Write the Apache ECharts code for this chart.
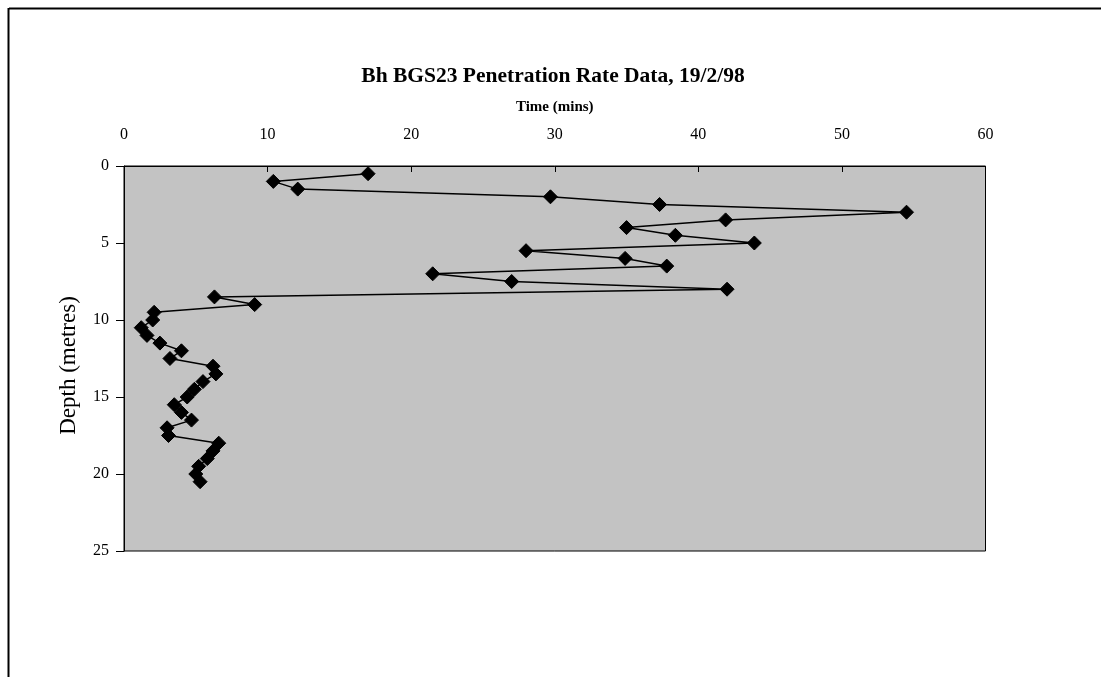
<!DOCTYPE html>
<html>
<head>
<meta charset="utf-8">
<script src="https://cdn.jsdelivr.net/npm/echarts@6/dist/echarts.min.js"></script>
<style>
html,body{margin:0;padding:0;background:#fff;}
#chart{width:1101px;height:677px;}
</style>
</head>
<body>
<div id="chart"></div>
<script>
const title = 'Bh BGS23 Penetration Rate Data, 19/2/98';
const xAxisName = 'Time (mins)';
const yAxisName = 'Depth (metres)';
const depths = [0.5, 1.0, 1.5, 2.0, 2.5, 3.0, 3.5, 4.0, 4.5, 5.0, 5.5, 6.0, 6.5, 7.0, 7.5, 8.0, 8.5, 9.0, 9.5, 10.0,
  10.5, 11.0, 11.5, 12.0, 12.5, 13.0, 13.5, 14.0, 14.5, 15.0, 15.5, 16.0, 16.5, 17.0, 17.5, 18.0, 18.5, 19.0, 19.5, 20.0, 20.5];
const times = [17.0, 10.4, 12.1, 29.7, 37.3, 54.5, 41.9, 35.0, 38.4, 43.9, 28.0, 34.9, 37.8, 21.5, 27.0, 42.0, 6.3, 9.1, 2.1, 2.0,
  1.2, 1.6, 2.5, 4.0, 3.2, 6.2, 6.4, 5.5, 4.9, 4.4, 3.5, 4.0, 4.7, 3.0, 3.1, 6.6, 6.2, 5.8, 5.2, 5.0, 5.3];

const chart = echarts.init(document.getElementById('chart'), null, {renderer: 'canvas'});
const serif = '"Liberation Serif", "Times New Roman", serif';
chart.setOption({
  backgroundColor: '#ffffff',
  animation: false,
  title: {
    text: title,
    left: 548, top: 60, textAlign: 'center',
    textStyle: {fontFamily: serif, fontSize: 21.5, fontWeight: 'bold', color: '#000'}
  },
  graphic: [
    {type: 'line', shape: {x1: 9, y1: 8.5, x2: 1101, y2: 8.5}, style: {stroke: '#000', lineWidth: 2}},
    {type: 'line', shape: {x1: 8.5, y1: 8, x2: 8.5, y2: 677}, style: {stroke: '#000', lineWidth: 2}}
  ],
  grid: {left: 124, right: 115.5, top: 166, bottom: 126, show: true, backgroundColor: '#c3c3c3', borderColor: '#000', borderWidth: 1},
  xAxis: {
    type: 'value', position: 'top', min: 0, max: 60, interval: 10,
    name: xAxisName, nameLocation: 'middle', nameGap: 51,
    nameTextStyle: {fontFamily: serif, fontSize: 15, fontWeight: 'bold', color: '#000'},
    axisLine: {show: true, lineStyle: {color: '#000', width: 1}},
    axisTick: {show: true, inside: true, length: 6, lineStyle: {color: '#000'}},
    axisLabel: {fontFamily: serif, fontSize: 16, color: '#000', margin: 23},
    splitLine: {show: false}
  },
  yAxis: {
    type: 'value', inverse: true, min: 0, max: 25, interval: 5,
    name: yAxisName, nameLocation: 'middle', nameGap: 44, nameRotate: 90,
    nameTextStyle: {fontFamily: serif, fontSize: 23, color: '#000', padding: [0, 14, 0, 0]},
    axisLine: {show: true, lineStyle: {color: '#000', width: 1}},
    axisTick: {show: true, length: 8, lineStyle: {color: '#000'}},
    axisLabel: {fontFamily: serif, fontSize: 16, color: '#000', margin: 15},
    splitLine: {show: false}
  },
  series: [{
    type: 'line',
    data: depths.map((d, i) => [times[i], d]),
    symbol: 'diamond', symbolSize: 14,
    showAllSymbol: true,
    lineStyle: {color: '#000', width: 1.5},
    itemStyle: {color: '#000', borderColor: '#000'}
  }]
});
</script>
</body>
</html>
